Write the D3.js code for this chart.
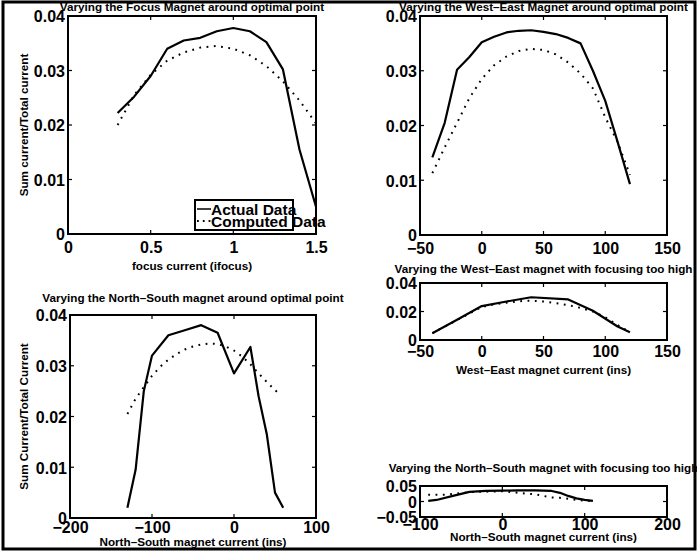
<!DOCTYPE html>
<meta charset="utf-8">
<script src="https://d3js.org/d3.v7.min.js"></script>
<style>
  body { margin: 0; background: #fff; }
  text { font-family: "Liberation Sans", Arial, sans-serif; fill: #000; }
</style>
<div id="chart"></div>
<script>

// ---- data ----
// focus magnet around optimal point
var focusX        = [0.3, 0.4, 0.5, 0.6, 0.7, 0.8, 0.9, 1.0, 1.1, 1.2, 1.3, 1.4, 1.5];
var focusActual   = [0.0222, 0.0252, 0.0290, 0.0340, 0.0355, 0.0360, 0.0372, 0.0378, 0.0372, 0.0352, 0.0302, 0.0155, 0.0050];
var focusComputed = [0.0200, 0.0255, 0.0292, 0.0318, 0.0333, 0.0342, 0.0345, 0.0340, 0.0328, 0.0308, 0.0280, 0.0245, 0.0203];

// west-east magnet around optimal point
var weOptX        = [-40, -30, -20, -10, 0, 10, 20, 30, 40, 50, 60, 70, 80, 90, 100, 110, 120];
var weOptActual   = [0.0142, 0.0205, 0.0302, 0.0325, 0.0352, 0.0362, 0.0370, 0.0373, 0.0374, 0.0371, 0.0367, 0.0360, 0.0350, 0.0300, 0.0245, 0.0170, 0.0093];
var weOptComputed = [0.0113, 0.0160, 0.0205, 0.0250, 0.0285, 0.0310, 0.0326, 0.0336, 0.0340, 0.0338, 0.0330, 0.0315, 0.0295, 0.0268, 0.0215, 0.0170, 0.0110];

// north-south magnet around optimal point
var nsOptActualX   = [-130, -120, -110, -100, -80, -60, -40, -20, 0, 20, 30, 40, 50, 60];
var nsOptActual    = [0.002, 0.0095, 0.025, 0.032, 0.036, 0.037, 0.038, 0.0365, 0.0285, 0.0337, 0.024, 0.0165, 0.005, 0.002];
var nsOptComputedX = [-130, -120, -110, -100, -90, -80, -70, -60, -50, -40, -30, -20, -10, 0, 10, 20, 30, 40, 50, 55];
var nsOptComputed  = [0.0205, 0.0235, 0.0258, 0.0280, 0.0298, 0.0312, 0.0323, 0.0332, 0.0338, 0.0342, 0.0344, 0.0343, 0.0338, 0.0330, 0.0318, 0.0303, 0.0285, 0.0268, 0.0252, 0.0245];

// west-east magnet, focusing too high
var weHighActualX   = [-40, -20, 0, 20, 40, 70, 90, 110, 120];
var weHighActual    = [0.0048, 0.0142, 0.0238, 0.0270, 0.0300, 0.0285, 0.0205, 0.0095, 0.0055];
var weHighComputedX = [-40, -20, 0, 10, 20, 30, 40, 50, 60, 70, 80, 90, 100, 110, 120];
var weHighComputed  = [0.0048, 0.0140, 0.0232, 0.0250, 0.0262, 0.0272, 0.0276, 0.0270, 0.0258, 0.0245, 0.0225, 0.0200, 0.0160, 0.0105, 0.0055];

// north-south magnet, focusing too high
var nsHighActualX   = [-90, -80, -60, -40, -20, 0, 20, 40, 60, 70, 80, 90, 100, 110];
var nsHighActual    = [0.002, 0.005, 0.018, 0.031, 0.034, 0.035, 0.036, 0.036, 0.034, 0.028, 0.018, 0.010, 0.005, 0.002];
var nsHighComputedX = [-90, -70, -40, -30, 0, 30, 40, 60, 70, 90, 100, 110];
var nsHighComputed  = [0.022, 0.022, 0.030, 0.031, 0.033, 0.025, 0.023, 0.013, 0.012, 0.005, 0.003, 0.001];

// tick values
var focusXTicks  = [0, 0.5, 1, 1.5];
var weXTicks     = [-50, 0, 50, 100, 150];
var nsOptXTicks  = [-200, -100, 0, 100];
var nsHighXTicks = [-100, 0, 100, 200];
var y4Ticks      = [0, 0.01, 0.02, 0.03, 0.04];
var y2Ticks      = [0, 0.02, 0.04];
var y5Ticks      = [-0.05, 0, 0.05];

var W = 697, H = 554;
var labelSize = "11.7px";

var svg = d3.select("#chart").append("svg")
    .attr("width", W)
    .attr("height", H);

// scanned page frame
svg.append("rect")
    .attr("x", 3).attr("y", 2)
    .attr("width", 692).attr("height", 547)
    .attr("fill", "none")
    .attr("stroke", "#000")
    .attr("stroke-width", 3);

// matlab style number format: 0.04, 0.5, -50
function fmt(v) {
  var s = String(+v.toFixed(4));
  return s.replace("-", "\u2212");
}

function panel(o) {
  var x = d3.scaleLinear().domain(o.xDomain).range([o.left, o.right]);
  var y = d3.scaleLinear().domain(o.yDomain).range([o.bottom, o.top]);
  var g = svg.append("g");

  // inward ticks on all four sides (box on)
  var tl = 4;
  var xAx = d3.axisBottom(x).tickValues(o.xTicks).tickSize(0).tickFormat(fmt);
  var yAx = d3.axisLeft(y).tickValues(o.yTicks).tickSize(0).tickFormat(fmt);

  o.xTicks.forEach(function(t) {
    g.append("line").attr("x1", x(t)).attr("x2", x(t)).attr("y1", o.bottom).attr("y2", o.bottom - tl)
      .attr("stroke", "#000").attr("stroke-width", 1.2);
    g.append("line").attr("x1", x(t)).attr("x2", x(t)).attr("y1", o.top).attr("y2", o.top + tl)
      .attr("stroke", "#000").attr("stroke-width", 1.2);
  });
  o.yTicks.forEach(function(t) {
    g.append("line").attr("x1", o.left).attr("x2", o.left + tl).attr("y1", y(t)).attr("y2", y(t))
      .attr("stroke", "#000").attr("stroke-width", 1.2);
    g.append("line").attr("x1", o.right).attr("x2", o.right - tl).attr("y1", y(t)).attr("y2", y(t))
      .attr("stroke", "#000").attr("stroke-width", 1.2);
  });

  var gx = g.append("g").attr("transform", "translate(0," + o.bottom + ")").call(xAx);
  var gy = g.append("g").attr("transform", "translate(" + o.left + ",0)").call(yAx);
  [gx, gy].forEach(function(a) {
    a.select(".domain").remove();
    a.selectAll("text")
      .style("font-size", "16px")
      .style("font-weight", "bold")
      .style("font-family", "'Liberation Sans', Arial, sans-serif");
  });
  gx.selectAll("text").attr("y", o.xTickDy == null ? 4 : o.xTickDy).attr("dy", "0.95em");
  gy.selectAll("text").attr("x", -3).attr("dy", "0.36em");

  // box
  g.append("rect")
    .attr("x", o.left).attr("y", o.top)
    .attr("width", o.right - o.left).attr("height", o.bottom - o.top)
    .attr("fill", "none").attr("stroke", "#000").attr("stroke-width", 2);

  var line = d3.line()
    .x(function(d) { return x(d[0]); })
    .y(function(d) { return y(d[1]); });

  o.series.forEach(function(s) {
    g.append("path")
      .datum(d3.zip(s.x, s.y))
      .attr("fill", "none")
      .attr("stroke", "#000")
      .attr("stroke-width", s.dotted ? 2 : 2.2)
      .attr("stroke-dasharray", s.dotted ? "1.8,5.5" : null)
      .attr("stroke-linejoin", "round")
      .attr("d", line);
  });

  var cx = (o.left + o.right) / 2;
  if (o.title) {
    g.append("text").attr("x", cx).attr("y", o.titleY)
      .attr("text-anchor", "middle")
      .style("font-size", labelSize).style("font-weight", "bold")
      .text(o.title);
  }
  if (o.xLabel) {
    g.append("text").attr("x", cx).attr("y", o.xLabelY)
      .attr("text-anchor", "middle")
      .style("font-size", labelSize).style("font-weight", "bold")
      .text(o.xLabel);
  }
  if (o.yLabel) {
    g.append("text")
      .attr("transform", "translate(" + o.yLabelX + "," + ((o.top + o.bottom) / 2) + ") rotate(-90)")
      .attr("text-anchor", "middle")
      .style("font-size", labelSize).style("font-weight", "bold")
      .text(o.yLabel);
  }
  return {x: x, y: y, g: g};
}

// top left
var p1 = panel({
  left: 68, right: 316, top: 16, bottom: 234,
  xDomain: [0, 1.5], yDomain: [0, 0.04],
  xTicks: focusXTicks, yTicks: y4Ticks,
  title: "Varying the Focus Magnet around optimal point", titleY: 11,
  xLabel: "focus current (ifocus)", xLabelY: 270,
  yLabel: "Sum current/Total current", yLabelX: 28,
  series: [
    {x: focusX, y: focusActual},
    {x: focusX, y: focusComputed, dotted: true}
  ]
});

// legend (text spills out of its box like in the print)
var lg = p1.g.append("g");
lg.append("rect").attr("x", 195).attr("y", 200).attr("width", 98).attr("height", 30)
  .attr("fill", "#fff").attr("stroke", "#000").attr("stroke-width", 2);
lg.append("line").attr("x1", 197).attr("x2", 211).attr("y1", 209).attr("y2", 209)
  .attr("stroke", "#000").attr("stroke-width", 1.5);
lg.append("line").attr("x1", 197).attr("x2", 211).attr("y1", 221).attr("y2", 221)
  .attr("stroke", "#000").attr("stroke-width", 1.8).attr("stroke-dasharray", "1.8,4");
lg.append("text").attr("x", 211).attr("y", 215).style("font-size", "15.5px").style("font-weight", "bold").text("Actual Data");
lg.append("text").attr("x", 211).attr("y", 227).style("font-size", "15.5px").style("font-weight", "bold").text("Computed Data");

// top right
panel({
  left: 420, right: 667, top: 16, bottom: 235,
  xDomain: [-50, 150], yDomain: [0, 0.04],
  xTicks: weXTicks, yTicks: y4Ticks,
  title: "Varying the West\u2013East Magnet around optimal point", titleY: 11,
  series: [
    {x: weOptX, y: weOptActual},
    {x: weOptX, y: weOptComputed, dotted: true}
  ]
});

// bottom left
panel({
  left: 70, right: 316, top: 315, bottom: 518,
  xDomain: [-200, 100], yDomain: [0, 0.04],
  xTicks: nsOptXTicks, yTicks: y4Ticks,
  title: "Varying the North\u2013South magnet around optimal point", titleY: 302,
  xLabel: "North\u2013South magnet current (ins)", xLabelY: 546, xTickDy: 0,
  yLabel: "Sum Current/Total Current", yLabelX: 28,
  series: [
    {x: nsOptActualX, y: nsOptActual},
    {x: nsOptComputedX, y: nsOptComputed, dotted: true}
  ]
});

// right middle
panel({
  left: 420, right: 667, top: 283, bottom: 340,
  xDomain: [-50, 150], yDomain: [0, 0.04],
  xTicks: weXTicks, yTicks: y2Ticks,
  title: "Varying the West\u2013East magnet with focusing too high", titleY: 273,
  xLabel: "West\u2013East magnet current (ins)", xLabelY: 374, xTickDy: 2,
  series: [
    {x: weHighActualX, y: weHighActual},
    {x: weHighComputedX, y: weHighComputed, dotted: true}
  ]
});

// right bottom
panel({
  left: 420, right: 667, top: 486, bottom: 517,
  xDomain: [-100, 200], yDomain: [-0.05, 0.05],
  xTicks: nsHighXTicks, yTicks: y5Ticks,
  title: "Varying the North\u2013South magnet with focusing too high", titleY: 472,
  xLabel: "North\u2013South magnet current (ins)", xLabelY: 541, xTickDy: -2,
  series: [
    {x: nsHighActualX, y: nsHighActual},
    {x: nsHighComputedX, y: nsHighComputed, dotted: true}
  ]
});

</script>
